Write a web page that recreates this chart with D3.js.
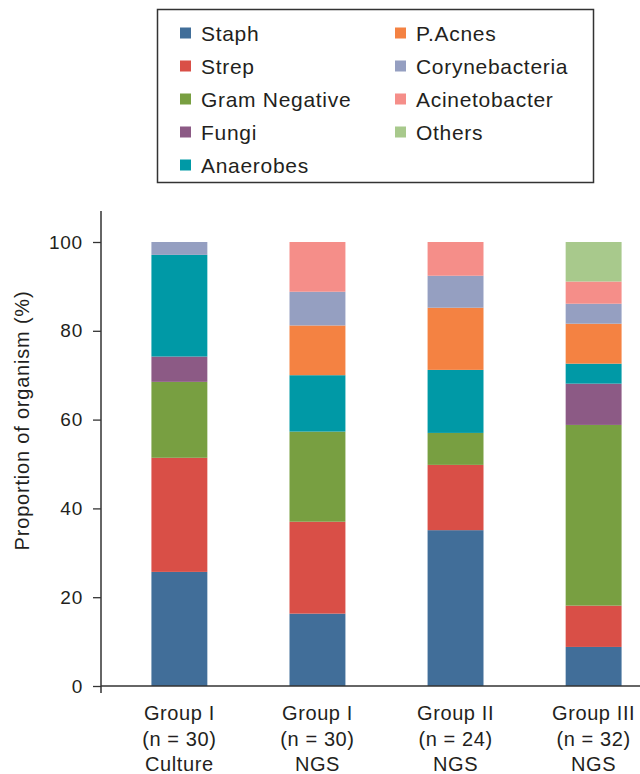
<!DOCTYPE html>
<html>
<head>
<meta charset="utf-8">
<script src="https://cdn.jsdelivr.net/npm/d3@7"></script>
<style>
  body { margin: 0; background: #fff; }
  text { font-family: "Liberation Sans", Arial, sans-serif; fill: #231f20; }
</style>
</head>
<body>
<div id="chart"></div>
<script>
const groupNames = ["Group I", "Group I", "Group II", "Group III"];
const groupSizes = ["(n = 30)", "(n = 30)", "(n = 24)", "(n = 32)"];
const groupMethods = ["Culture", "NGS", "NGS", "NGS"];

const organisms = ["Staph", "Strep", "Gram Negative", "Fungi", "Anaerobes",
                   "P.Acnes", "Corynebacteria", "Acinetobacter", "Others"];
const colors = ["#416e99", "#d94f47", "#789f41", "#8c5a85", "#0099a6",
                "#f48242", "#959fc1", "#f58e89", "#a8c98c"];

// proportion (%) per group
const staph      = [25.7, 16.3, 35.1, 8.8];
const strep      = [25.7, 20.7, 14.7, 9.3];
const gramNeg    = [17.1, 20.3, 7.2, 40.7];
const fungi      = [5.7, 0, 0, 9.3];
const anaerobes  = [22.9, 12.7, 14.2, 4.5];
const pAcnes     = [0, 11.2, 14.0, 9.0];
const coryne     = [2.9, 7.6, 7.2, 4.5];
const acineto    = [0, 11.2, 7.6, 5.0];
const others     = [0, 0, 0, 8.9];

const yTicks = [0, 20, 40, 60, 80, 100];

const series = [staph, strep, gramNeg, fungi, anaerobes, pAcnes, coryne, acineto, others];
const rows = groupNames.map((g, i) => {
    const r = { idx: i };
    organisms.forEach((o, k) => { r[o] = series[k][i]; });
    return r;
});

const width = 640, height = 774;
const svg = d3.select("#chart").append("svg")
    .attr("width", width)
    .attr("height", height);

const x = d3.scaleBand()
    .domain(d3.range(groupNames.length))
    .range([110, 663])
    .paddingInner(0.595)
    .paddingOuter(0.3);

const y = d3.scaleLinear()
    .domain([0, 100])
    .range([686, 242]);

const color = d3.scaleOrdinal().domain(organisms).range(colors);

const stacked = d3.stack().keys(organisms)(rows);

svg.append("g")
    .selectAll("g")
    .data(stacked)
    .join("g")
    .attr("fill", d => color(d.key))
    .selectAll("rect")
    .data(d => d.filter(s => s[1] - s[0] > 0))
    .join("rect")
    .attr("x", d => x(d.data.idx))
    .attr("width", x.bandwidth())
    .attr("y", d => y(d[1]))
    .attr("height", d => y(d[0]) - y(d[1]));

// y axis
const yAxis = svg.append("g")
    .attr("transform", "translate(101,0)")
    .call(d3.axisLeft(y).tickValues(yTicks).tickSize(8).tickSizeOuter(0).tickPadding(10));
yAxis.select(".domain").remove();
yAxis.selectAll("line").attr("stroke", "#333").attr("stroke-width", 1.3);
yAxis.selectAll("text")
    .style("font-size", "19px")
    .style("letter-spacing", "0.8px")
    .attr("fill", "#231f20");

svg.append("line")
    .attr("x1", 101).attr("x2", 101)
    .attr("y1", 211).attr("y2", 693)
    .attr("stroke", "#333").attr("stroke-width", 1.5);

svg.append("line")
    .attr("x1", 101).attr("x2", 640)
    .attr("y1", y(0)).attr("y2", y(0))
    .attr("stroke", "#333").attr("stroke-width", 1.5);

svg.append("text")
    .attr("transform", `translate(29,${(283 + 558) / 2}) rotate(-90)`)
    .attr("text-anchor", "middle")
    .style("font-size", "20px")
    .style("letter-spacing", "0.8px")
    .text("Proportion of organism (%)");

// x labels
const xl = svg.append("g")
    .selectAll("text")
    .data(rows)
    .join("text")
    .attr("text-anchor", "middle")
    .style("font-size", "20px")
    .style("letter-spacing", "0.6px")
    .attr("x", d => x(d.idx) + x.bandwidth() / 2);
xl.append("tspan").attr("x", d => x(d.idx) + x.bandwidth() / 2).attr("y", 720).text(d => groupNames[d.idx]);
xl.append("tspan").attr("x", d => x(d.idx) + x.bandwidth() / 2).attr("y", 746).text(d => groupSizes[d.idx]);
xl.append("tspan").attr("x", d => x(d.idx) + x.bandwidth() / 2).attr("y", 771).text(d => groupMethods[d.idx]);

// legend
svg.append("rect")
    .attr("x", 157.5).attr("y", 9.5)
    .attr("width", 436).attr("height", 173)
    .attr("fill", "none")
    .attr("stroke", "#333").attr("stroke-width", 1.5);

const legend = svg.append("g")
    .selectAll("g")
    .data(organisms)
    .join("g")
    .attr("transform", (d, i) => {
        const col = i < 5 ? 0 : 1;
        const row = i < 5 ? i : i - 5;
        return `translate(${col ? 395 : 180},${33 + row * 33})`;
    });
legend.append("rect")
    .attr("x", 0).attr("y", -5.5)
    .attr("width", 11).attr("height", 11)
    .attr("fill", d => color(d));
legend.append("text")
    .attr("x", 21)
    .attr("dy", "0.36em")
    .style("font-size", "21px")
    .style("letter-spacing", "0.7px")
    .text(d => d);
</script>
</body>
</html>
